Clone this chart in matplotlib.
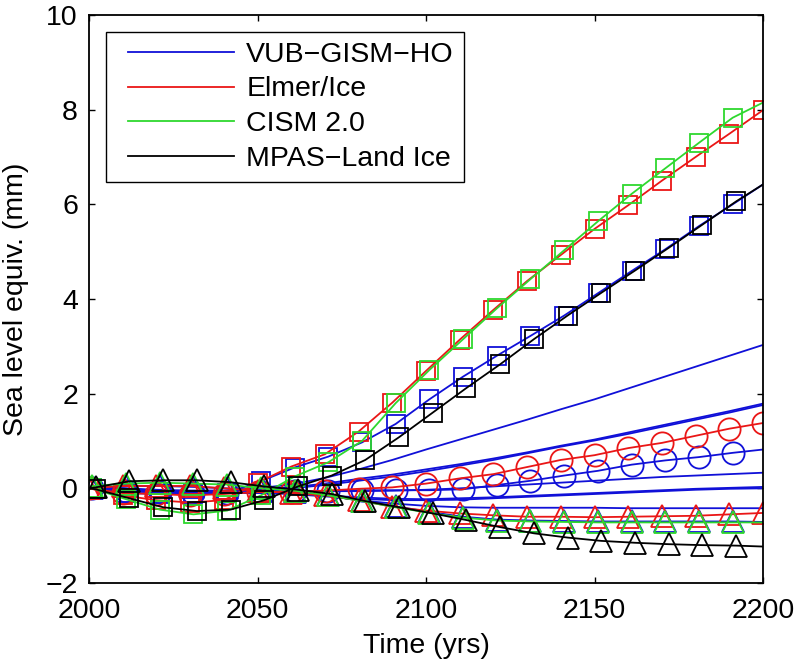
import matplotlib
matplotlib.use('Agg')
import matplotlib.pyplot as plt
from matplotlib.lines import Line2D
from matplotlib.legend_handler import HandlerLine2D

plt.rcParams['font.family'] = ['Liberation Sans', 'DejaVu Sans']

# ---------------- data ----------------
# Elmer/Ice: values every 10 years 2000..2200, marker on each
YEARS_RED = list(range(2000, 2201, 10))
# VUB / CISM: line from 2000, markers at 2001..2191, line to 2200
YEARS_B = [2000] + list(range(2001, 2192, 10)) + [2200]
# MPAS: markers at 2002..2192
YEARS_K = [2000] + list(range(2002, 2193, 10)) + [2200]
# unmarked VUB runs
YEARS_DEC = list(range(2000, 2201, 10))

elmer_sq = [0.0, -0.15, -0.25, -0.3, -0.25, 0.12, 0.46, 0.72, 1.2, 1.81, 2.48,
            3.14, 3.77, 4.38, 4.93, 5.48, 5.98, 6.5, 7.0, 7.49, 7.99]
elmer_ci = [0.0, -0.1, -0.12, -0.15, -0.12, -0.08, -0.08, -0.05, -0.01, 0.02, 0.1,
            0.21, 0.3, 0.45, 0.6, 0.7, 0.85, 0.96, 1.11, 1.26, 1.38]
elmer_tr = [0.0, 0.05, 0.05, 0.05, 0.0, -0.05, -0.1, -0.15, -0.25, -0.39, -0.47,
            -0.53, -0.57, -0.6, -0.6, -0.61, -0.6, -0.59, -0.58, -0.55, -0.52]

vub_sq = [0.0, 0.0, -0.1, -0.12, -0.12, -0.1, 0.15, 0.44, 0.67, 0.97, 1.36, 1.88,
          2.36, 2.8, 3.22, 3.65, 4.12, 4.59, 5.05, 5.54, 6.0, 6.42]
vub_ci = [0.0, 0.0, -0.05, -0.08, -0.1, -0.1, -0.08, -0.06, -0.05, -0.04, -0.04, -0.04,
          -0.02, 0.07, 0.16, 0.27, 0.37, 0.5, 0.59, 0.66, 0.75, 0.82]
vub_tr = [0.0, 0.0, 0.05, 0.05, 0.03, 0.0, -0.05, -0.08, -0.15, -0.27, -0.38, -0.5,
          -0.6, -0.66, -0.68, -0.69, -0.7, -0.7, -0.7, -0.7, -0.7, -0.71]

cism_sq = [0.0, 0.0, -0.23, -0.45, -0.55, -0.47, -0.15, 0.25, 0.55, 1.0, 1.8, 2.5,
           3.15, 3.8, 4.42, 5.03, 5.64, 6.22, 6.76, 7.3, 7.83, 8.15]
cism_tr = [0.0, 0.05, 0.1, 0.12, 0.1, 0.08, 0.0, -0.05, -0.15, -0.27, -0.4, -0.52,
           -0.62, -0.68, -0.7, -0.71, -0.72, -0.72, -0.72, -0.72, -0.72, -0.72]

mpas_sq = [0.0, -0.02, -0.21, -0.4, -0.48, -0.45, -0.25, 0.04, 0.27, 0.6, 1.08, 1.6,
           2.12, 2.62, 3.15, 3.65, 4.13, 4.6, 5.08, 5.57, 6.06, 6.42]
mpas_tr = [0.0, 0.02, 0.15, 0.17, 0.17, 0.13, 0.04, -0.03, -0.12, -0.27, -0.4, -0.53,
           -0.67, -0.82, -0.95, -1.04, -1.11, -1.15, -1.18, -1.2, -1.21, -1.23]

# additional VUB-GISM-HO runs (no markers)
vub_a = [0.0, 0.0, -0.03, -0.05, -0.05, 0.0, 0.08, 0.22, 0.4, 0.6, 0.82,
         1.03, 1.24, 1.45, 1.67, 1.88, 2.11, 2.34, 2.57, 2.8, 3.03]
vub_b = [0.0, 0.0, -0.05, -0.05, -0.05, -0.02, 0.02, 0.1, 0.2, 0.29, 0.4,
         0.51, 0.63, 0.76, 0.9, 1.03, 1.18, 1.33, 1.48, 1.63, 1.79]
vub_c = [0.0, 0.0, -0.05, -0.06, -0.06, -0.04, 0.0, 0.07, 0.16, 0.25, 0.36,
         0.48, 0.6, 0.74, 0.88, 1.01, 1.15, 1.3, 1.45, 1.6, 1.76]
vub_d = [0.0, -0.03, -0.05, -0.06, -0.06, -0.05, -0.05, -0.06, -0.06, -0.05, -0.03,
         0.0, 0.04, 0.08, 0.12, 0.16, 0.2, 0.24, 0.27, 0.3, 0.33]
vub_e = [0.0, -0.05, -0.08, -0.1, -0.1, -0.1, -0.1, -0.15, -0.19, -0.22, -0.23,
         -0.21, -0.19, -0.16, -0.13, -0.1, -0.07, -0.04, -0.01, 0.01, 0.03]
vub_f = [0.0, -0.05, -0.08, -0.1, -0.1, -0.1, -0.12, -0.17, -0.22, -0.25, -0.25,
         -0.24, -0.21, -0.18, -0.15, -0.12, -0.09, -0.06, -0.03, -0.01, 0.0]
vub_g = [0.0, -0.05, -0.08, -0.1, -0.1, -0.1, -0.1, -0.15, -0.25, -0.32, -0.37,
         -0.4, -0.41, -0.41, -0.41, -0.41, -0.42, -0.42, -0.42, -0.42, -0.42]

labels = ['VUB\u2212GISM\u2212HO', 'Elmer/Ice', 'CISM 2.0', 'MPAS\u2212Land Ice']

# ---------------- style ----------------
BLUE = '#1010d8'
RED = '#ea1616'
GREEN = '#2ed82e'
BLACK = '#000000'
LW = 1.3
MEW = 1.3
MS_SQ = 13
MS_CI = 16
MS_TR = 16.5

fig = plt.figure(figsize=(7.96, 6.63), dpi=100)
ax = fig.add_axes([89 / 796, 1 - 583 / 663, (763 - 89) / 796, (583 - 15) / 663])

mk = slice(1, 21)
common = dict(lw=LW, mew=MEW, mfc='none')

# VUB (blue) first
for v in (vub_a, vub_b, vub_c, vub_d, vub_e, vub_f, vub_g):
    ax.plot(YEARS_DEC, v, color=BLUE, lw=LW)
ax.plot(YEARS_B, vub_sq, color=BLUE, marker='s', ms=MS_SQ, markevery=mk, **common)
ax.plot(YEARS_B, vub_ci, color=BLUE, marker='o', ms=MS_CI, markevery=mk, **common)
ax.plot(YEARS_B, vub_tr, color=BLUE, marker='^', ms=MS_TR, markevery=mk, **common)

# Elmer/Ice (red)
ax.plot(YEARS_RED, elmer_sq, color=RED, marker='s', ms=MS_SQ, **common)
ax.plot(YEARS_RED, elmer_ci, color=RED, marker='o', ms=MS_CI, **common)
ax.plot(YEARS_RED, elmer_tr, color=RED, marker='^', ms=MS_TR, **common)

# CISM (green)
ax.plot(YEARS_B, cism_sq, color=GREEN, marker='s', ms=MS_SQ, markevery=mk, **common)
ax.plot(YEARS_B, cism_tr, color=GREEN, marker='^', ms=MS_TR, markevery=mk, **common)

# MPAS (black)
ax.plot(YEARS_K, mpas_sq, color=BLACK, marker='s', ms=MS_SQ, markevery=mk, **common)
ax.plot(YEARS_K, mpas_tr, color=BLACK, marker='^', ms=MS_TR, markevery=mk, **common)

ax.set_xlim(2000, 2200)
ax.set_ylim(-2, 10)
ax.set_xticks([2000, 2050, 2100, 2150, 2200])
ax.set_yticks([-2, 0, 2, 4, 6, 8, 10])
ax.tick_params(direction='in', length=4.5, width=1.0, top=True, right=True,
               labelsize=20.5)
ax.tick_params(axis='x', pad=11)
ax.tick_params(axis='y', pad=8)
for s in ax.spines.values():
    s.set_linewidth(1.3)

ax.set_xlabel('Time (yrs)', fontsize=20.5, labelpad=6)
ax.set_ylabel('Sea level equiv. (mm)', fontsize=20.5, labelpad=12)


class ShiftedLine(HandlerLine2D):
    def create_artists(self, legend, orig_handle, xdescent, ydescent,
                       width, height, fontsize, trans):
        arts = super().create_artists(legend, orig_handle, xdescent, ydescent,
                                      width, height, fontsize, trans)
        for a in arts:
            xd = list(a.get_xdata())
            yd = list(a.get_ydata())
            if len(xd) >= 2 and len(xd) == len(yd):
                x0, x1 = xd[0], xd[-1]
                a.set_data([x0 + 0.096 * (x1 - x0), x1], [yd[0], yd[-1]])
        return arts


handles = [Line2D([], [], color=c, lw=LW) for c in (BLUE, RED, GREEN, BLACK)]
leg = ax.legend(handles, labels, loc='upper left', bbox_to_anchor=(0.0252, 0.9706),
                borderaxespad=0, fontsize=20.5, handlelength=4.15, handletextpad=0.42,
                labelspacing=0.3, borderpad=0.36, fancybox=False, framealpha=1,
                edgecolor='black', handler_map={Line2D: ShiftedLine()})
leg.get_frame().set_linewidth(1.0)

fig.savefig('out.png', dpi=100)
